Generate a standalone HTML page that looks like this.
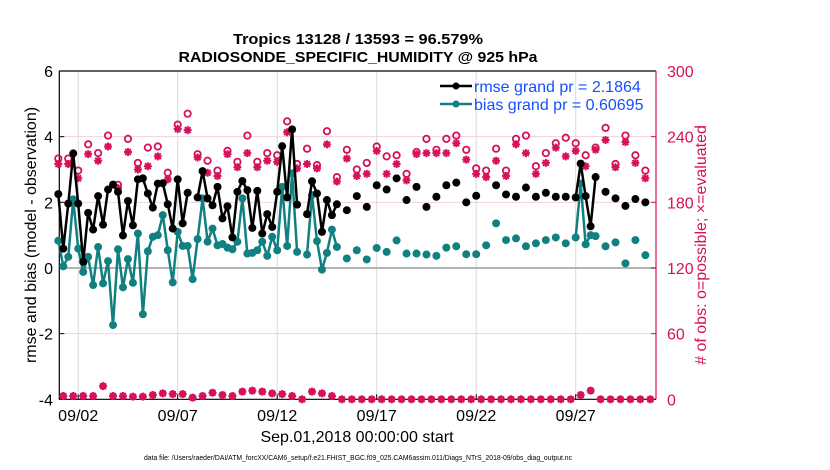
<!DOCTYPE html>
<html><head><meta charset="utf-8">
<style>
html,body{margin:0;padding:0;background:#fff;}
svg{display:block;font-family:"Liberation Sans",Arial,sans-serif;}
</style></head>
<body>
<svg id="chart" width="830" height="470" viewBox="0 0 830 470" xmlns="http://www.w3.org/2000/svg">
<g id="grid"></g>
<g id="axes"></g>
<g id="marks"></g>
<text x="358" y="44" text-anchor="middle" font-weight="bold" font-size="15" textLength="250" lengthAdjust="spacingAndGlyphs">Tropics 13128 / 13593 = 96.579%</text>
<text x="358" y="62" text-anchor="middle" font-weight="bold" font-size="15" textLength="359" lengthAdjust="spacingAndGlyphs">RADIOSONDE_SPECIFIC_HUMIDITY @ 925 hPa</text>
<text transform="translate(36,235) rotate(-90)" text-anchor="middle" font-size="16">rmse and bias (model - observation)</text>
<text transform="translate(706,245) rotate(-90)" text-anchor="middle" font-size="16" fill="#d6105a"># of obs: o=possible; ×=evaluated</text>
<text x="357" y="442" text-anchor="middle" font-size="16">Sep.01,2018 00:00:00 start</text>
<text x="358" y="460" text-anchor="middle" font-size="7.5" textLength="428" lengthAdjust="spacingAndGlyphs">data file: /Users/raeder/DAI/ATM_forcXX/CAM6_setup/f.e21.FHIST_BGC.f09_025.CAM6assim.011/Diags_NTrS_2018-09/obs_diag_output.nc</text>
<g>
  <line x1="440" y1="86" x2="472" y2="86" stroke="#000" stroke-width="2.5"/>
  <circle cx="456" cy="86" r="3.5" fill="#000"/>
  <text x="474" y="92" font-size="16" fill="#1450ff">rmse grand pr = 2.1864</text>
  <line x1="440" y1="104" x2="472" y2="104" stroke="#108080" stroke-width="2.5"/>
  <circle cx="456" cy="104" r="3.5" fill="#108080"/>
  <text x="474" y="110" font-size="16" fill="#1450ff">bias grand pr = 0.60695</text>
</g>
</svg>
<script>
const N=null;
const rmse=[2.25,0.59,1.96,3.49,1.96,0.19,1.68,1.17,2.19,1.32,2.39,2.54,2.32,0.99,2.04,1.30,2.70,2.73,2.27,1.84,
2.57,2.58,1.94,1.20,2.70,1.36,2.29,N,2.15,2.95,2.12,1.91,2.47,1.51,1.88,0.93,2.32,2.65,2.37,1.22,
2.35,1.05,1.64,1.25,2.32,3.71,2.15,4.22,1.93,N,1.64,2.64,2.27,1.10,2.07,1.61,1.94,N,1.76,N,
2.19,N,1.86,N,2.52,N,2.39,N,2.73,N,2.07,N,2.47,N,1.86,N,2.17,N,2.52,N,
2.60,N,2.00,N,2.20,N,N,N,2.52,N,2.24,N,2.17,N,2.45,N,2.17,N,2.29,N,
2.17,N,2.17,N,2.15,3.18,2.19,1.27,2.77,N,2.32,N,2.12,N,1.89,N,2.10,N,2.00,N];
const bias=[0.83,0.05,0.34,2.09,0.59,-0.12,0.34,-0.52,0.64,-0.47,0.21,-1.74,0.57,-0.59,0.27,-0.45,1.05,-1.41,0.51,0.95,
1.00,1.61,0.54,-0.44,1.10,0.67,0.67,-0.34,0.88,2.12,0.80,1.20,0.69,0.73,0.62,0.57,0.80,2.12,0.44,0.46,
0.54,0.80,0.37,0.95,0.54,2.47,0.67,2.88,0.49,N,0.41,2.22,0.82,-0.05,0.46,1.17,0.64,N,0.29,N,
0.54,N,0.26,N,0.61,N,0.49,N,0.84,N,0.44,N,0.44,N,0.41,N,0.37,N,0.62,N,
0.66,N,0.42,N,0.42,N,0.69,N,1.36,N,0.85,N,0.90,N,0.66,N,0.75,N,0.85,N,
0.93,N,0.75,N,0.93,2.57,0.72,1.00,0.97,N,0.66,N,0.78,N,0.14,N,0.85,N,0.39,N];
const possible=[220,220,209,233,225,241,196,238,216,230,231,207,251,261,224,218,209,227,217,241,
217,225,223,254,215,229,214,245,203,228,210,216,231,222,223,206,226,238,228,238,
241,228,211,209,229,209,238,241,213,225,234,239,234,223,230,248,215,241,223,209];
const evaluated=[215,215,202,224,218,231,193,226,210,213,222,201,247,246,221,207,204,224,212,225,
212,218,217,244,211,215,211,233,199,220,204,206,227,206,215,200,224,225,225,225,
234,219,206,203,218,204,233,225,206,216,230,222,227,213,228,237,212,235,216,202];
const lowCounts=[3,3,3,3,12,3,3,2.4,2.4,3.9,5.4,4.8,4.8,1.5,3,6,3.9,3,7,7.9,7,5.4,4.8,3,0,7,5.4,3,0,0,
0,0,0,0,0,0,0,0,0,0,0,0,0,0,0,0,0,0,0,0,0,0,3.9,7.9,0,0,0,0,0,0];
const leftTicks=[-4,-2,0,2,4,6];
const rightTicks=[0,60,120,180,240,300];
const xTickDays=[1,6,11,16,21,26];
const xTickLabels=["09/02","09/07","09/12","09/17","09/22","09/27"];

const X0=59.3,X1=656,Y0=71,Y1=399.3;
function xDay(d){return 58.3+19.9*d;}
function xSlot(k){return xDay(k/4);}
function yL(v){return Y0+(6-v)*(Y1-Y0)/10;}
function yR(c){return Y1-c*(Y1-Y0)/300;}
const NS="http://www.w3.org/2000/svg";
function mk(tag,attrs,parent){const e=document.createElementNS(NS,tag);for(const a in attrs)e.setAttribute(a,attrs[a]);parent.appendChild(e);return e;}
const grid=document.getElementById('grid'),axes=document.getElementById('axes'),marks=document.getElementById('marks');
const RED="#d6105a",TEAL="#108080";

xTickDays.forEach((d,i)=>{
  const g=mk('line',{x1:xDay(d),x2:xDay(d),y1:Y0,y2:Y1,stroke:"#dadada","stroke-width":1},grid);
  
  
  const t=mk('line',{x1:xDay(d),x2:xDay(d),y1:Y1,y2:Y1-5,stroke:"#000","stroke-width":1},axes);
  
  
  const l=mk('text',{x:xDay(d),y:421,"text-anchor":"middle","font-size":16},axes);
  l.textContent=xTickLabels[i];
  
  
});
rightTicks.forEach(c=>{
  if(c>0&&c<300){
    const g=mk('line',{x1:X0,x2:X1,y1:yR(c),y2:yR(c),stroke:"#f0d2de","stroke-width":1},grid);
    
    
  }
  const t=mk('line',{x1:X1,x2:X1-5,y1:yR(c),y2:yR(c),stroke:RED,"stroke-width":1},axes);
  
  
  const l=mk('text',{x:X1+11,y:yR(c)+6,"font-size":16,fill:RED},axes);
  l.textContent=c;
  
  
});
const zl=mk('line',{x1:X0,x2:X1,y1:yL(0),y2:yL(0),stroke:"#b4b4b4","stroke-width":2},grid);


leftTicks.forEach(v=>{
  const t=mk('line',{x1:X0,x2:X0+5,y1:yL(v),y2:yL(v),stroke:"#000","stroke-width":1},axes);
  
  
  const l=mk('text',{x:53,y:yL(v)+6,"text-anchor":"end","font-size":16},axes);
  l.textContent=v;
  
  
});
const ab=mk('path',{d:`M${X0},${Y0}H${X1}M${X0},${Y0}V${Y1}H${X1}`,stroke:"#000","stroke-width":1.2,fill:"none"},axes);


const ar=mk('line',{x1:X1,x2:X1,y1:Y0,y2:Y1,stroke:RED,"stroke-width":1.2},axes);



function star(cx,cy,name){
  const r=4;
  const d=`M${cx-r},${cy}H${cx+r}M${cx},${cy-r}V${cy+r}M${cx-2.9},${cy-2.9}L${cx+2.9},${cy+2.9}M${cx-2.9},${cy+2.9}L${cx+2.9},${cy-2.9}`;
  const p=mk('path',{d:d,stroke:RED,"stroke-width":2,fill:"none"},marks);
  
  
}
function ring(cx,cy,name){
  const c=mk('circle',{cx:cx,cy:cy,r:3.2,stroke:RED,"stroke-width":1.8,fill:"none"},marks);
  
  
}
possible.forEach((c,i)=>ring(xSlot(2*i),yR(c),'possible-count-point'));
evaluated.forEach((c,i)=>star(xSlot(2*i),yR(c),'evaluated-count-point'));
lowCounts.forEach((c,i)=>{
  const x=xSlot(2*i+1),y=yR(c);
  const d=mk('circle',{cx:x,cy:y,r:3.6,fill:RED},marks);
  
  
  star(x,y,'low-evaluated-count-point');
});

function series(vals,color,name){
  let path="",prev=false;
  vals.forEach((v,k)=>{
    if(v===null){prev=false;return;}
    path+=(prev?"L":"M")+xSlot(k).toFixed(1)+","+yL(v).toFixed(1);
    prev=true;
  });
  const p=mk('path',{d:path,stroke:color,"stroke-width":2.5,fill:"none","stroke-linejoin":"round"},marks);
  
  
  vals.forEach((v,k)=>{
    if(v===null)return;
    const c=mk('circle',{cx:xSlot(k),cy:yL(v),r:4,fill:color},marks);
    
    
  });
}
series(bias,TEAL,'bias');
series(rmse,"#000",'rmse');
</script>
</body></html>
